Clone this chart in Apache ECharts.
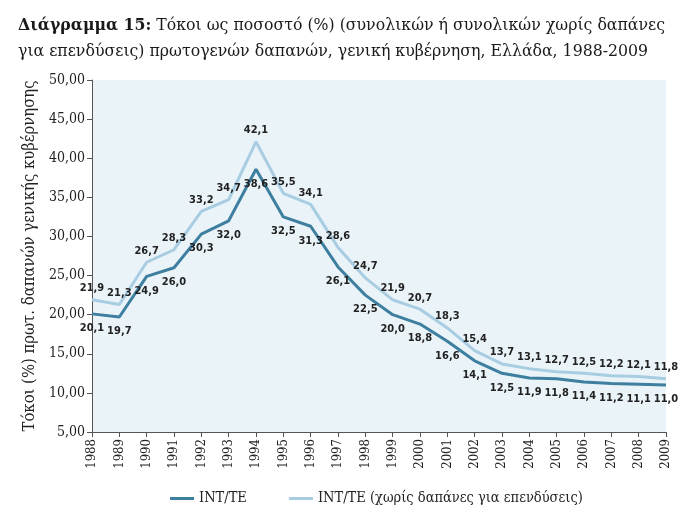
<!DOCTYPE html>
<html><head><meta charset="utf-8">
<script src="https://cdn.jsdelivr.net/npm/echarts@6/dist/echarts.min.js"></script>
<style>html,body{margin:0;padding:0;background:#fff}#c{width:699px;height:516px}</style>
</head><body><div id="c"></div>
<script>
const years = ['1988','1989','1990','1991','1992','1993','1994','1995','1996','1997','1998','1999','2000','2001','2002','2003','2004','2005','2006','2007','2008','2009'];
const intTE = [20.1,19.7,24.9,26.0,30.3,32.0,38.6,32.5,31.3,26.1,22.5,20.0,18.8,16.6,14.1,12.5,11.9,11.8,11.4,11.2,11.1,11.0];
const intTEnoInv = [21.9,21.3,26.7,28.3,33.2,34.7,42.1,35.5,34.1,28.6,24.7,21.9,20.7,18.3,15.4,13.7,13.1,12.7,12.5,12.2,12.1,11.8];
const seriesNames = ['INT/TE','INT/TE (χωρίς δαπάνες για επενδύσεις)'];
const titleLine1Bold = 'Διάγραμμα 15:';
const titleLine1 = ' Τόκοι ως ποσοστό (%) (συνολικών ή συνολικών χωρίς δαπάνες';
const titleLine2 = 'για επενδύσεις) πρωτογενών δαπανών, γενική κυβέρνηση, Ελλάδα, 1988-2009';
const yName = 'Τόκοι (%) πρωτ. δαπανών γενικής κυβέρνησης';

const serif = '"DejaVu Serif Condensed","Liberation Serif",serif';
const labelFont = '"Liberation Sans Narrow","DejaVu Sans Condensed","Liberation Sans",sans-serif';
const fmt = v => v.toFixed(1).replace('.', ',');

const chart = echarts.init(document.getElementById('c'));
chart.setOption({
  animation: false,
  backgroundColor: '#fff',
  title: {
    left: 13, top: 7,
    text: '{b|' + titleLine1Bold + '}' + titleLine1 + '\n' + titleLine2,
    textStyle: {
      fontFamily: serif, fontSize: 17.5, fontWeight: 'normal', color: '#1a1a1a', lineHeight: 26,
      rich: { b: { fontFamily: serif, fontSize: 17.5, fontWeight: 'bold', color: '#1a1a1a' } }
    }
  },
  grid: { left: 92, right: 33, top: 80, bottom: 84, show: true, backgroundColor: '#EAF3F7', borderWidth: 0 },
  legend: {
    bottom: 5, left: 165, itemGap: 42, itemWidth: 24, itemHeight: 3, icon: 'rect',
    textStyle: { fontFamily: serif, fontSize: 14.5, color: '#222' },
    data: seriesNames
  },
  xAxis: {
    type: 'category', data: years, boundaryGap: false,
    axisLine: { lineStyle: { color: '#555' } },
    axisTick: { show: true, alignWithLabel: true, lineStyle: { color: '#555' } },
    axisLabel: { rotate: 90, fontFamily: serif, fontSize: 13, color: '#222', interval: 0, margin: 7 }
  },
  yAxis: {
    type: 'value', min: 5, max: 50, interval: 5,
    name: yName, nameLocation: 'middle', nameGap: 53, nameRotate: 90,
    nameTextStyle: { fontFamily: serif, fontSize: 16.5, color: '#222' },
    axisLine: { show: true, lineStyle: { color: '#555' } },
    axisTick: { show: true, lineStyle: { color: '#555' } },
    splitLine: { show: false },
    axisLabel: { fontFamily: serif, fontSize: 14, color: '#222', margin: 7, formatter: v => v.toFixed(2).replace('.', ',') }
  },
  series: [
    {
      name: seriesNames[0], type: 'line', data: intTE, symbol: 'circle', symbolSize: 0, showSymbol: true,
      lineStyle: { color: '#3E7FA0', width: 3 }, itemStyle: { color: '#3E7FA0' },
      labelLayout: { hideOverlap: false },
      label: { show: true, position: 'bottom', offset: [5, 0], distance: 9, formatter: p => fmt(p.value),
        fontFamily: labelFont, fontSize: 11, fontWeight: 'bold', color: '#222' }
    },
    {
      name: seriesNames[1], type: 'line', data: intTEnoInv, symbol: 'circle', symbolSize: 0, showSymbol: true,
      lineStyle: { color: '#A8CDE2', width: 3 }, itemStyle: { color: '#A8CDE2' },
      labelLayout: { hideOverlap: false },
      label: { show: true, position: 'top', offset: [-2, 0], distance: 6, formatter: p => fmt(p.value),
        fontFamily: labelFont, fontSize: 11, fontWeight: 'bold', color: '#222' }
    }
  ]
});
</script></body></html>
